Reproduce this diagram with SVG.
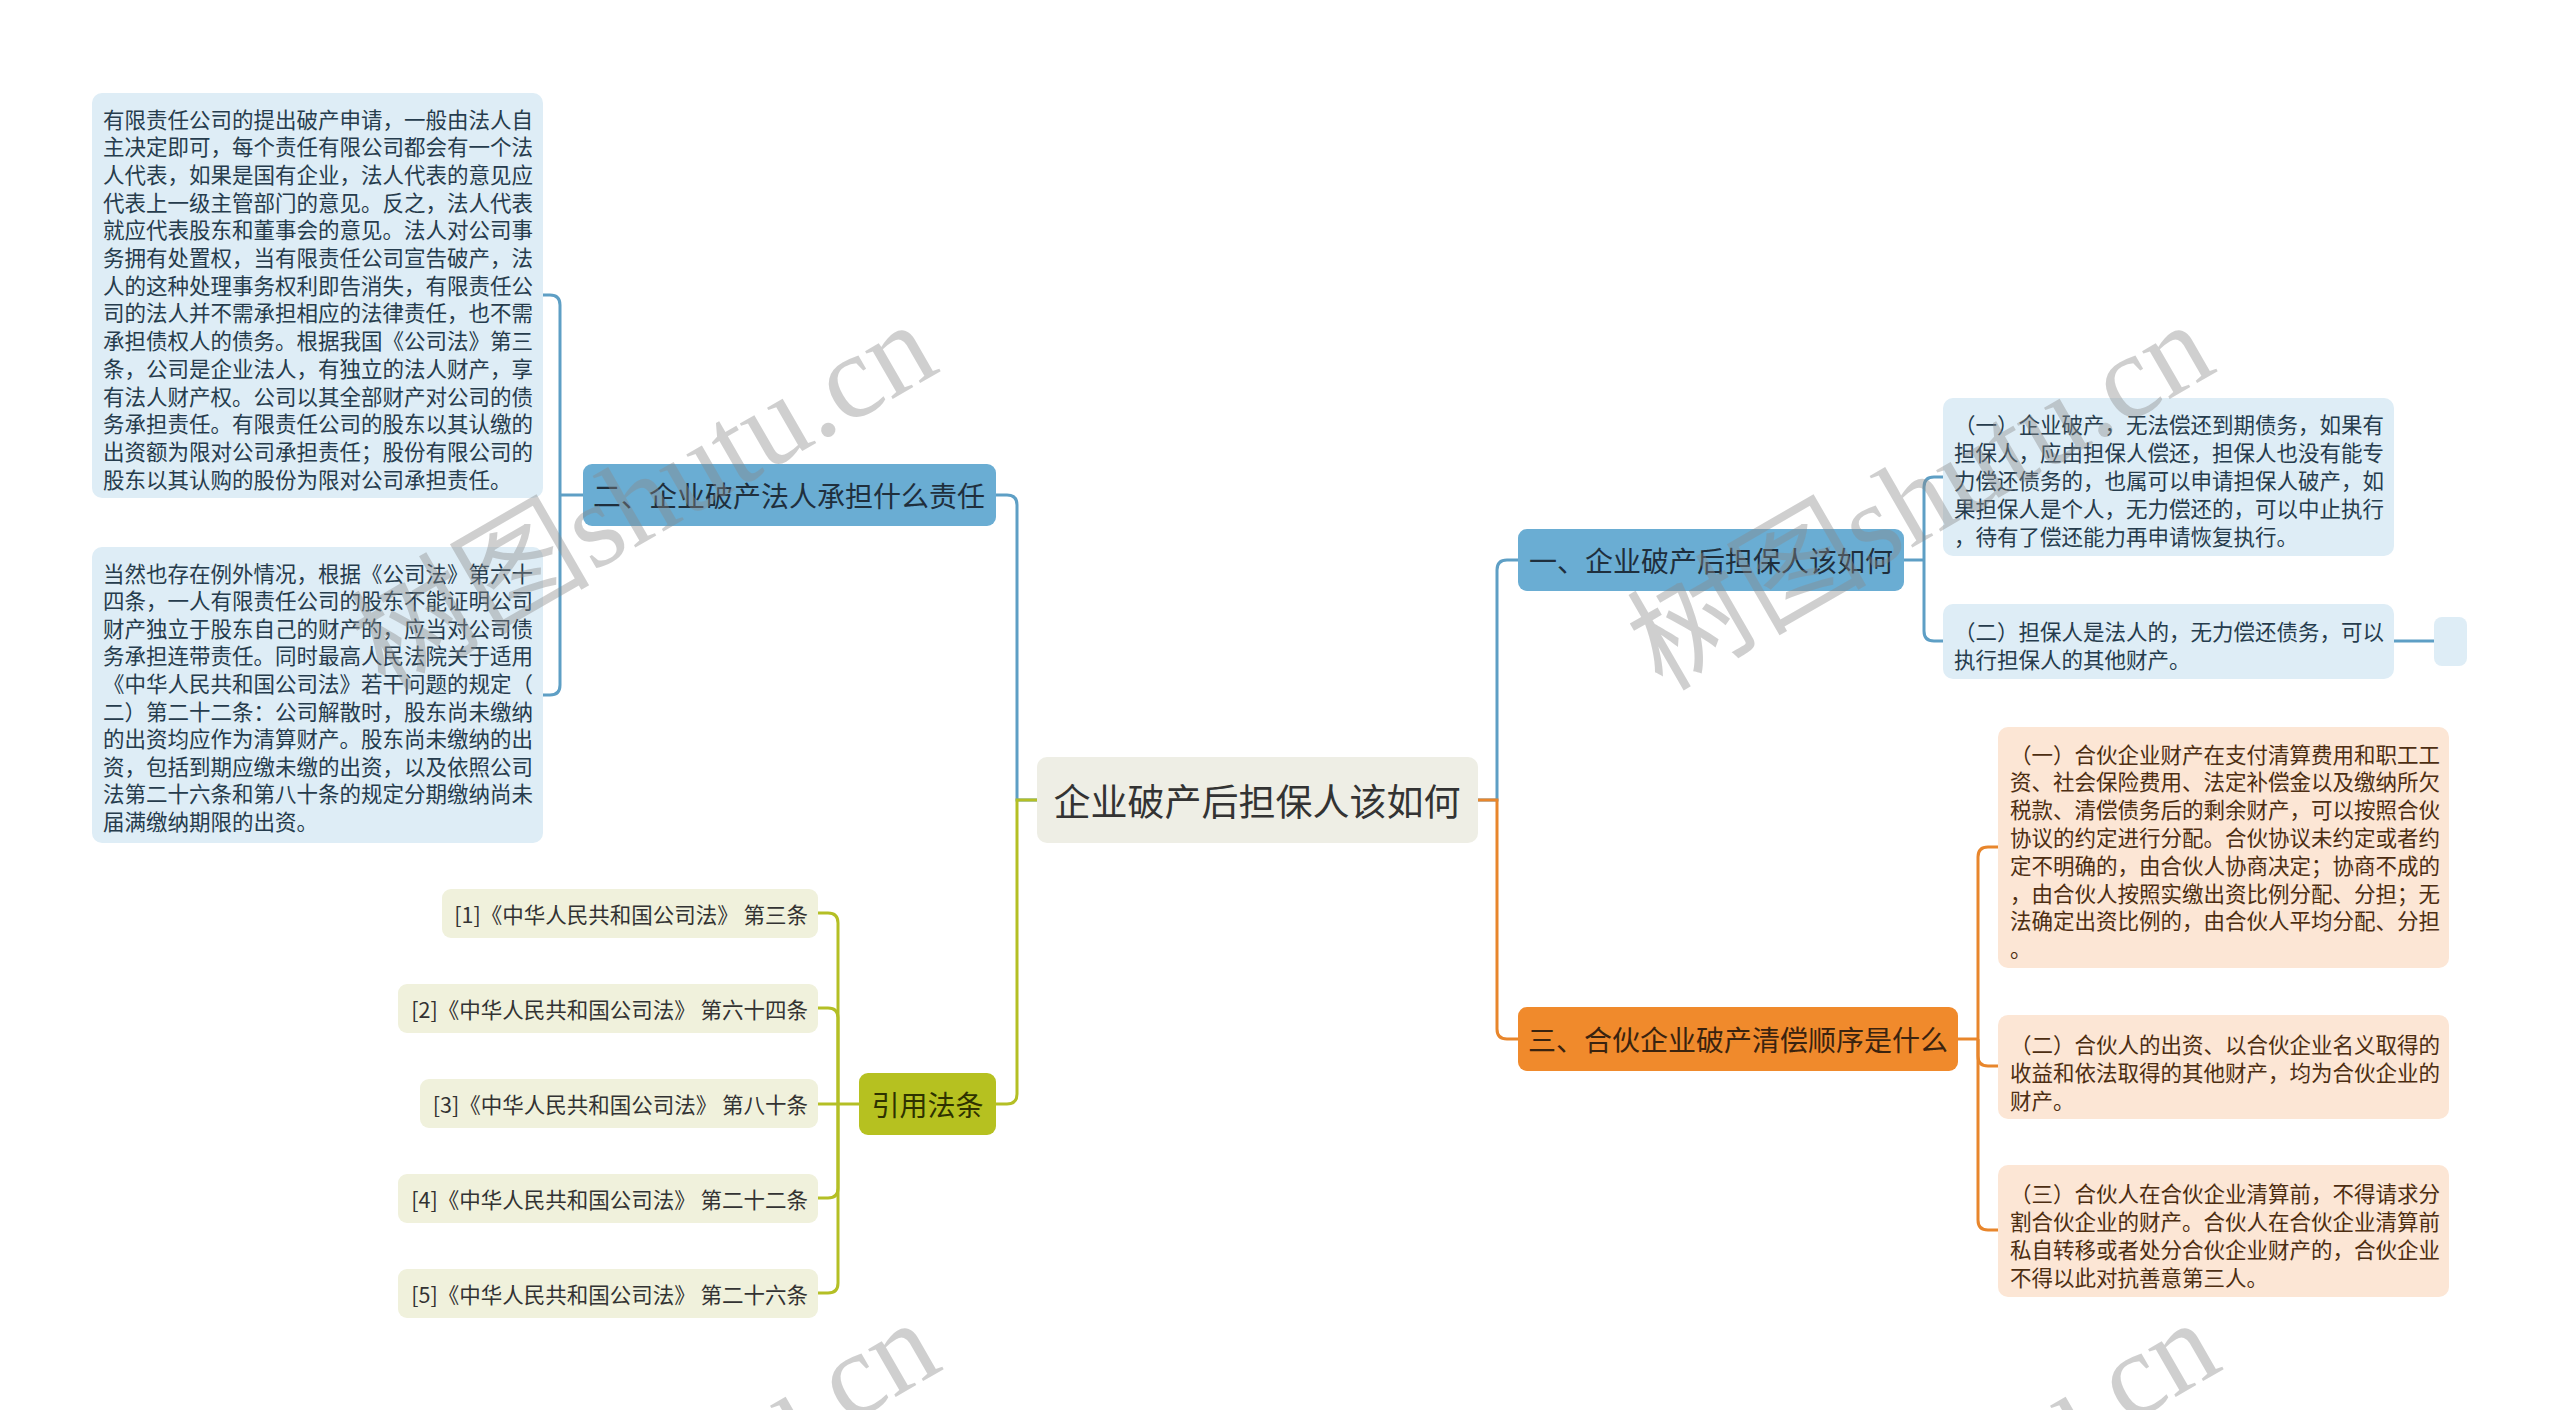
<svg xmlns="http://www.w3.org/2000/svg" width="2560" height="1410" viewBox="0 0 2560 1410">
<style>
text{font-family:"Noto Sans CJK SC","Noto Sans",sans-serif;}
.cn{font-size:37px;fill:#333;text-anchor:middle;dominant-baseline:central;}
.bn{font-size:28px;fill:#1f2f3d;text-anchor:middle;dominant-baseline:central;}
.on{font-size:28px;fill:#3a230f;text-anchor:middle;dominant-baseline:central;}
.gn{font-size:28px;fill:#2e3200;text-anchor:middle;dominant-baseline:central;}
.bt{font-size:21.5px;fill:#263c4d;dominant-baseline:central;}
.ot{font-size:21.5px;fill:#4d2e12;dominant-baseline:central;}
.ct{font-size:21.5px;fill:#333;text-anchor:end;dominant-baseline:central;}
.bl{fill:none;stroke:#5e9fc5;stroke-width:3;}
.ol{fill:none;stroke:#e8862c;stroke-width:3;}
.gl{fill:none;stroke:#b4bf25;stroke-width:3;}
.wm{font-family:"Liberation Serif","Noto Sans CJK SC",serif;font-size:120px;fill:#8a8a8a;opacity:0.4;}
</style>
<rect width="2560" height="1410" fill="#ffffff"/>
<g id="connectors">
<path class="bl" d="M1037,800 H1017 V505 Q1017,495 1007,495 H996"/>
<path class="gl" d="M1037,800 H1017 V1094 Q1017,1104 1007,1104 H996"/>
<path class="bl" d="M583,495 H560"/>
<path class="bl" d="M560,495 V305 Q560,295 550,295 H543"/>
<path class="bl" d="M560,495 V685 Q560,695 550,695 H543"/>
<path class="gl" d="M859,1104 H838"/>
<path class="gl" d="M838,1104 V923 Q838,913 828,913 H818"/>
<path class="gl" d="M838,1104 V1018 Q838,1008 828,1008 H818"/>
<path class="gl" d="M838,1104 H818"/>
<path class="gl" d="M838,1104 V1188 Q838,1198 828,1198 H818"/>
<path class="gl" d="M838,1104 V1283 Q838,1293 828,1293 H818"/>
<path class="bl" d="M1478,800 H1497 V570 Q1497,560 1507,560 H1518"/>
<path class="ol" d="M1478,800 H1497 V1029 Q1497,1039 1507,1039 H1518"/>
<path class="bl" d="M1904,560 H1924"/>
<path class="bl" d="M1924,560 V487 Q1924,477 1934,477 H1943"/>
<path class="bl" d="M1924,560 V631 Q1924,641 1934,641 H1943"/>
<path class="bl" d="M2394,641 H2434"/>
<path class="ol" d="M1958,1039 H1978"/>
<path class="ol" d="M1978,1039 V857 Q1978,847 1988,847 H1998"/>
<path class="ol" d="M1978,1039 V1056 Q1978,1066 1988,1066 H1998"/>
<path class="ol" d="M1978,1039 V1220 Q1978,1230 1988,1230 H1998"/>
</g>
<g id="central">
<rect x="1037" y="757" width="441" height="86" rx="10" fill="#eeeee5"/>
<text class="cn" x="1257" y="800">企业破产后担保人该如何</text>
</g>
<g id="node-two">
<rect x="583" y="464" width="413" height="62" rx="9" fill="#6aadd3"/>
<text class="bn" x="789" y="495">二、企业破产法人承担什么责任</text>
</g>
<g id="box-two-a">
<rect x="92" y="93" width="451" height="405" rx="10" fill="#deedf6"/>
<text class="bt" x="103" y="118">有限责任公司的提出破产申请，一般由法人自</text>
<text class="bt" x="103" y="145.7">主决定即可，每个责任有限公司都会有一个法</text>
<text class="bt" x="103" y="173.4">人代表，如果是国有企业，法人代表的意见应</text>
<text class="bt" x="103" y="201.1">代表上一级主管部门的意见。反之，法人代表</text>
<text class="bt" x="103" y="228.8">就应代表股东和董事会的意见。法人对公司事</text>
<text class="bt" x="103" y="256.5">务拥有处置权，当有限责任公司宣告破产，法</text>
<text class="bt" x="103" y="284.2">人的这种处理事务权利即告消失，有限责任公</text>
<text class="bt" x="103" y="311.9">司的法人并不需承担相应的法律责任，也不需</text>
<text class="bt" x="103" y="339.6">承担债权人的债务。根据我国《公司法》第三</text>
<text class="bt" x="103" y="367.3">条，公司是企业法人，有独立的法人财产，享</text>
<text class="bt" x="103" y="395">有法人财产权。公司以其全部财产对公司的债</text>
<text class="bt" x="103" y="422.7">务承担责任。有限责任公司的股东以其认缴的</text>
<text class="bt" x="103" y="450.4">出资额为限对公司承担责任；股份有限公司的</text>
<text class="bt" x="103" y="478.1">股东以其认购的股份为限对公司承担责任。</text>
</g>
<g id="box-two-b">
<rect x="92" y="547" width="451" height="296" rx="10" fill="#deedf6"/>
<text class="bt" x="103" y="572">当然也存在例外情况，根据《公司法》第六十</text>
<text class="bt" x="103" y="599.6">四条，一人有限责任公司的股东不能证明公司</text>
<text class="bt" x="103" y="627.2">财产独立于股东自己的财产的，应当对公司债</text>
<text class="bt" x="103" y="654.8">务承担连带责任。同时最高人民法院关于适用</text>
<text class="bt" x="103" y="682.4">《中华人民共和国公司法》若干问题的规定（</text>
<text class="bt" x="103" y="710">二）第二十二条：公司解散时，股东尚未缴纳</text>
<text class="bt" x="103" y="737.6">的出资均应作为清算财产。股东尚未缴纳的出</text>
<text class="bt" x="103" y="765.2">资，包括到期应缴未缴的出资，以及依照公司</text>
<text class="bt" x="103" y="792.8">法第二十六条和第八十条的规定分期缴纳尚未</text>
<text class="bt" x="103" y="820.4">届满缴纳期限的出资。</text>
</g>
<g id="node-cite">
<rect x="859" y="1073" width="137" height="62" rx="9" fill="#b6c120"/>
<text class="gn" x="927.5" y="1104">引用法条</text>
</g>
<g id="cite-1">
<rect x="442" y="889" width="376" height="49" rx="9" fill="#f0f1dc"/>
<text class="ct" x="808" y="913">[1]《中华人民共和国公司法》 第三条</text>
</g>
<g id="cite-2">
<rect x="398" y="984" width="420" height="49" rx="9" fill="#f0f1dc"/>
<text class="ct" x="808" y="1008">[2]《中华人民共和国公司法》 第六十四条</text>
</g>
<g id="cite-3">
<rect x="420" y="1079" width="398" height="49" rx="9" fill="#f0f1dc"/>
<text class="ct" x="808" y="1103">[3]《中华人民共和国公司法》 第八十条</text>
</g>
<g id="cite-4">
<rect x="398" y="1174" width="420" height="49" rx="9" fill="#f0f1dc"/>
<text class="ct" x="808" y="1198">[4]《中华人民共和国公司法》 第二十二条</text>
</g>
<g id="cite-5">
<rect x="398" y="1269" width="420" height="49" rx="9" fill="#f0f1dc"/>
<text class="ct" x="808" y="1293">[5]《中华人民共和国公司法》 第二十六条</text>
</g>
<g id="node-one">
<rect x="1518" y="529" width="386" height="62" rx="9" fill="#6aadd3"/>
<text class="bn" x="1711" y="560">一、企业破产后担保人该如何</text>
</g>
<g id="box-one-a">
<rect x="1943" y="398" width="451" height="158" rx="10" fill="#deedf6"/>
<text class="bt" x="1954" y="423">（一）企业破产，无法偿还到期债务，如果有</text>
<text class="bt" x="1954" y="451">担保人，应由担保人偿还，担保人也没有能专</text>
<text class="bt" x="1954" y="479">力偿还债务的，也属可以申请担保人破产，如</text>
<text class="bt" x="1954" y="507">果担保人是个人，无力偿还的，可以中止执行</text>
<text class="bt" x="1954" y="535">，待有了偿还能力再申请恢复执行。</text>
</g>
<g id="box-one-b">
<rect x="1943" y="604" width="451" height="75" rx="10" fill="#deedf6"/>
<text class="bt" x="1954" y="630">（二）担保人是法人的，无力偿还债务，可以</text>
<text class="bt" x="1954" y="658">执行担保人的其他财产。</text>
</g>
<g id="box-one-c">
<rect x="2434" y="617" width="33" height="49" rx="8" fill="#deedf6"/>
</g>
<g id="node-three">
<rect x="1518" y="1007" width="440" height="64" rx="9" fill="#f08a2c"/>
<text class="on" x="1738" y="1039">三、合伙企业破产清偿顺序是什么</text>
</g>
<g id="box-three-a">
<rect x="1998" y="727" width="451" height="241" rx="10" fill="#fce6d5"/>
<text class="ot" x="2010" y="753">（一）合伙企业财产在支付清算费用和职工工</text>
<text class="ot" x="2010" y="780.8">资、社会保险费用、法定补偿金以及缴纳所欠</text>
<text class="ot" x="2010" y="808.6">税款、清偿债务后的剩余财产，可以按照合伙</text>
<text class="ot" x="2010" y="836.4">协议的约定进行分配。合伙协议未约定或者约</text>
<text class="ot" x="2010" y="864.2">定不明确的，由合伙人协商决定；协商不成的</text>
<text class="ot" x="2010" y="892">，由合伙人按照实缴出资比例分配、分担；无</text>
<text class="ot" x="2010" y="919.8">法确定出资比例的，由合伙人平均分配、分担</text>
<text class="ot" x="2010" y="947.6">。</text>
</g>
<g id="box-three-b">
<rect x="1998" y="1015" width="451" height="104" rx="10" fill="#fce6d5"/>
<text class="ot" x="2010" y="1043">（二）合伙人的出资、以合伙企业名义取得的</text>
<text class="ot" x="2010" y="1071">收益和依法取得的其他财产，均为合伙企业的</text>
<text class="ot" x="2010" y="1099">财产。</text>
</g>
<g id="box-three-c">
<rect x="1998" y="1165" width="451" height="132" rx="10" fill="#fce6d5"/>
<text class="ot" x="2010" y="1192">（三）合伙人在合伙企业清算前，不得请求分</text>
<text class="ot" x="2010" y="1220">割合伙企业的财产。合伙人在合伙企业清算前</text>
<text class="ot" x="2010" y="1248">私自转移或者处分合伙企业财产的，合伙企业</text>
<text class="ot" x="2010" y="1276">不得以此对抗善意第三人。</text>
</g>
<g id="watermarks">
<text class="wm" transform="translate(385,692) rotate(-30)">树图shutu.cn</text>
<text class="wm" transform="translate(1662,692) rotate(-30)">树图shutu.cn</text>
<text class="wm" transform="translate(388,1690) rotate(-30)">树图shutu.cn</text>
<text class="wm" transform="translate(1668,1690) rotate(-30)">树图shutu.cn</text>
</g>
</svg>
